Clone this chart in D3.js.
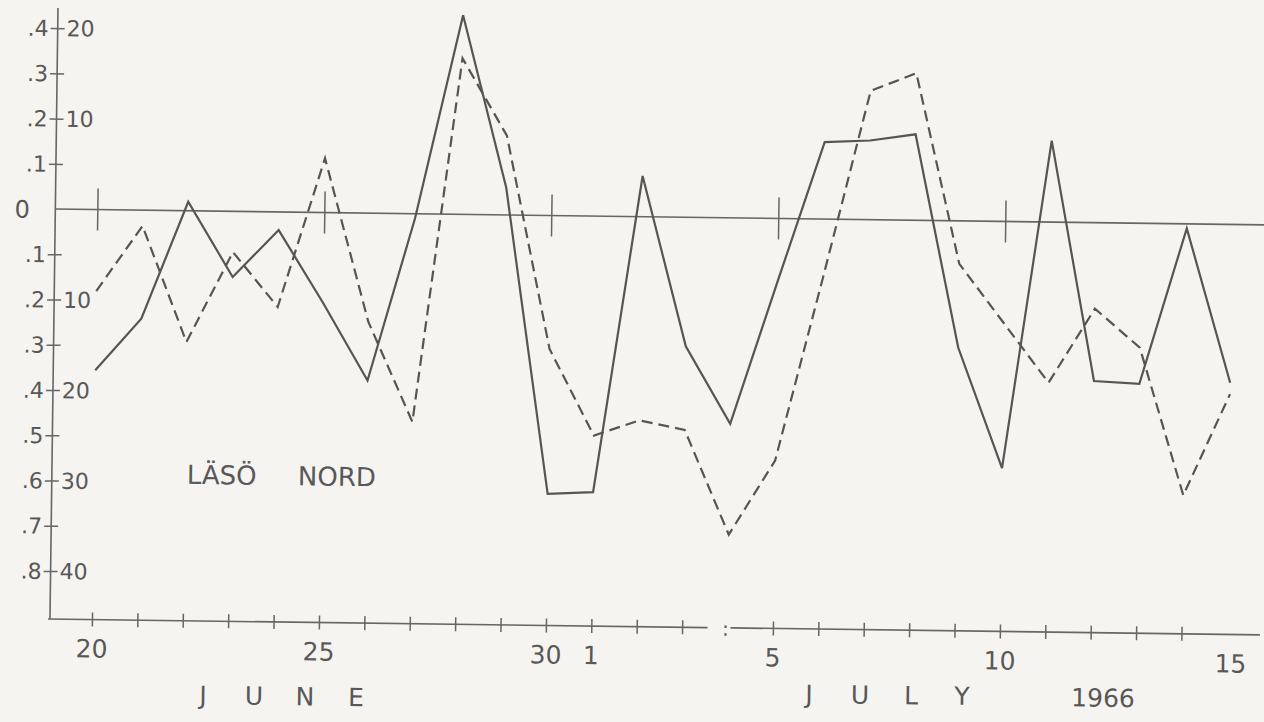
<!DOCTYPE html>
<html>
<head>
<meta charset="utf-8">
<script src="https://cdn.jsdelivr.net/npm/d3@7"></script>
<style>
  body { margin: 0; background: #f5f4f0; }
  svg { display: block; }
  text { font-family: "DejaVu Sans", sans-serif; fill: #585858; }
</style>
</head>
<body>
<div id="chart"></div>
<script>
// days from 20 June to 15 July 1966, one reading per day
const dayNumbers = [20, 21, 22, 23, 24, 25, 26, 27, 28, 29, 30, 1, 2, 3, 4, 5, 6, 7, 8, 9, 10, 11, 12, 13, 14, 15];

const solidValues = [-0.355, -0.24, 0.02, -0.145, -0.04, -0.2, -0.37, -0.01, 0.44, 0.06, -0.615, -0.61, 0.09,
  -0.285, -0.455, -0.14, 0.17, 0.175, 0.19, -0.28, -0.545, 0.18, -0.35, -0.355, -0.01, -0.35];

const dashedValues = [-0.18, -0.035, -0.29, -0.09, -0.21, 0.12, -0.24, -0.46, 0.345, 0.175, -0.295, -0.485, -0.45,
  -0.47, -0.7, -0.535, -0.13, 0.285, 0.325, -0.095, -0.225, -0.355, -0.19, -0.275, -0.6, -0.375];

const leftTickValues = [0.4, 0.3, 0.2, 0.1, 0, -0.1, -0.2, -0.3, -0.4, -0.5, -0.6, -0.7, -0.8];
const leftTickLabels = ['.4', '.3', '.2', '.1', '0', '.1', '.2', '.3', '.4', '.5', '.6', '.7', '.8'];
const rightTickValues = [0.4, 0.2, -0.2, -0.4, -0.6, -0.8];
const rightTickLabels = ['20', '10', '10', '20', '30', '40'];

const labelledDays = [20, 25, 30, 1, 5, 10, 15];
const markedDays = [20, 25, 30, 5, 10];
const breakDay = 4;

const width = 1264;
const height = 722;
const axisX = 50;
const axisY = 619;

const svg = d3.select('#chart').append('svg').attr('width', width).attr('height', height);

// the scanned page sits slightly rotated
const page = svg.append('g').attr('transform', `rotate(0.75, ${axisX}, 617)`);

const x = d3.scaleLinear().domain([0, 24]).range([92, 92 + 45.4 * 24]);
const y = d3.scaleLinear().domain([-0.8, 0.4]).range([571, 28]);

// June days come first (index 0-10), July days after
const julyIndex = d => dayNumbers.findIndex((n, i) => n === d && (d < 20 ? i > 10 : i <= 10));

// axes lines
const axisStyle = sel => sel.attr('stroke', '#666').attr('stroke-width', 1.6).attr('fill', 'none');

page.append('line').call(axisStyle)
  .attr('x1', axisX).attr('x2', axisX).attr('y1', 8).attr('y2', axisY);
page.append('line').call(axisStyle)
  .attr('x1', axisX - 2).attr('x2', x(julyIndex(breakDay)) - 20).attr('y1', axisY).attr('y2', axisY);
page.append('line').call(axisStyle)
  .attr('x1', x(julyIndex(breakDay)) + 3).attr('x2', 1260).attr('y1', axisY).attr('y2', axisY);
page.append('line').call(axisStyle)
  .attr('x1', axisX).attr('x2', 1262).attr('y1', y(0)).attr('y2', y(0));

page.append('text')
  .attr('x', x(julyIndex(breakDay)) - 2).attr('y', axisY + 8)
  .attr('text-anchor', 'middle').style('font-size', '20px').text(':');

// x ticks crossing the axis
const tickDays = d3.range(0, 25).filter(i => i !== julyIndex(breakDay));
const xAxis = d3.axisBottom(x).tickValues(tickDays).tickSize(14).tickFormat('');
const xAxisG = page.append('g').attr('transform', `translate(0,${axisY - 7})`).call(xAxis);
xAxisG.select('.domain').remove();
xAxisG.selectAll('.tick line').attr('stroke', '#666').attr('stroke-width', 1.5);

// long marks on the zero line every five days
const markIdx = markedDays.map(julyIndex);
const markAxis = d3.axisBottom(x).tickValues(markIdx).tickSize(42).tickFormat('');
const markG = page.append('g').attr('transform', `translate(0,${y(0) - 21})`).call(markAxis);
markG.select('.domain').remove();
markG.selectAll('.tick line').attr('stroke', '#666').attr('stroke-width', 1.5);

// y ticks crossing the axis
const yAxis = d3.axisRight(y).tickValues(leftTickValues.filter(v => v !== 0)).tickSize(14).tickFormat('');
const yAxisG = page.append('g').attr('transform', `translate(${axisX - 7},0)`).call(yAxis);
yAxisG.select('.domain').remove();
yAxisG.selectAll('.tick line').attr('stroke', '#666').attr('stroke-width', 1.5);

page.selectAll('.left-label')
  .data(leftTickValues)
  .join('text')
  .attr('class', 'left-label')
  .attr('x', v => (v === 0 ? 17 : 41))
  .attr('y', v => y(v) + (v === 0 ? 9 : 8))
  .attr('text-anchor', v => (v === 0 ? 'middle' : 'end'))
  .style('font-size', v => (v === 0 ? '24px' : '22px'))
  .text((v, i) => leftTickLabels[i]);

page.selectAll('.right-label')
  .data(rightTickValues)
  .join('text')
  .attr('class', 'right-label')
  .attr('x', 59)
  .attr('y', v => y(v) + 8)
  .style('font-size', '22px')
  .text((v, i) => rightTickLabels[i]);

page.selectAll('.day-label')
  .data(labelledDays)
  .join('text')
  .attr('class', 'day-label')
  .attr('x', d => x(julyIndex(d)) + (d === 15 ? 4 : 0))
  .attr('y', 657)
  .attr('text-anchor', 'middle')
  .style('font-size', '25px')
  .text(d => d);

// spaced month lettering
const spaced = (word, startX, baseY, step) => {
  page.append('g').selectAll('text')
    .data(word.split(''))
    .join('text')
    .attr('x', (c, i) => startX + i * step)
    .attr('y', baseY)
    .attr('text-anchor', 'middle')
    .style('font-size', '25px')
    .text(c => c);
};
spaced('JUNE', 204, 702, 51);
spaced('JULY', 810, 693, 51);

page.append('text').attr('x', 1104).attr('y', 693).attr('text-anchor', 'middle')
  .style('font-size', '25px').text('1966');

page.append('text').attr('x', 185).attr('y', 482).style('font-size', '26px').text('LÄSÖ');
page.append('text').attr('x', 296).attr('y', 482).style('font-size', '26px').text('NORD');

// series
const line = d3.line().x((v, i) => x(i)).y(v => y(v));

page.append('path')
  .datum(dashedValues)
  .attr('d', line)
  .attr('fill', 'none')
  .attr('stroke', '#555')
  .attr('stroke-width', 2.2)
  .attr('stroke-dasharray', '11,6')
  .attr('stroke-linejoin', 'miter');

page.append('path')
  .datum(solidValues)
  .attr('d', line)
  .attr('fill', 'none')
  .attr('stroke', '#555')
  .attr('stroke-width', 2.2)
  .attr('stroke-linejoin', 'miter');
</script>
</body>
</html>
